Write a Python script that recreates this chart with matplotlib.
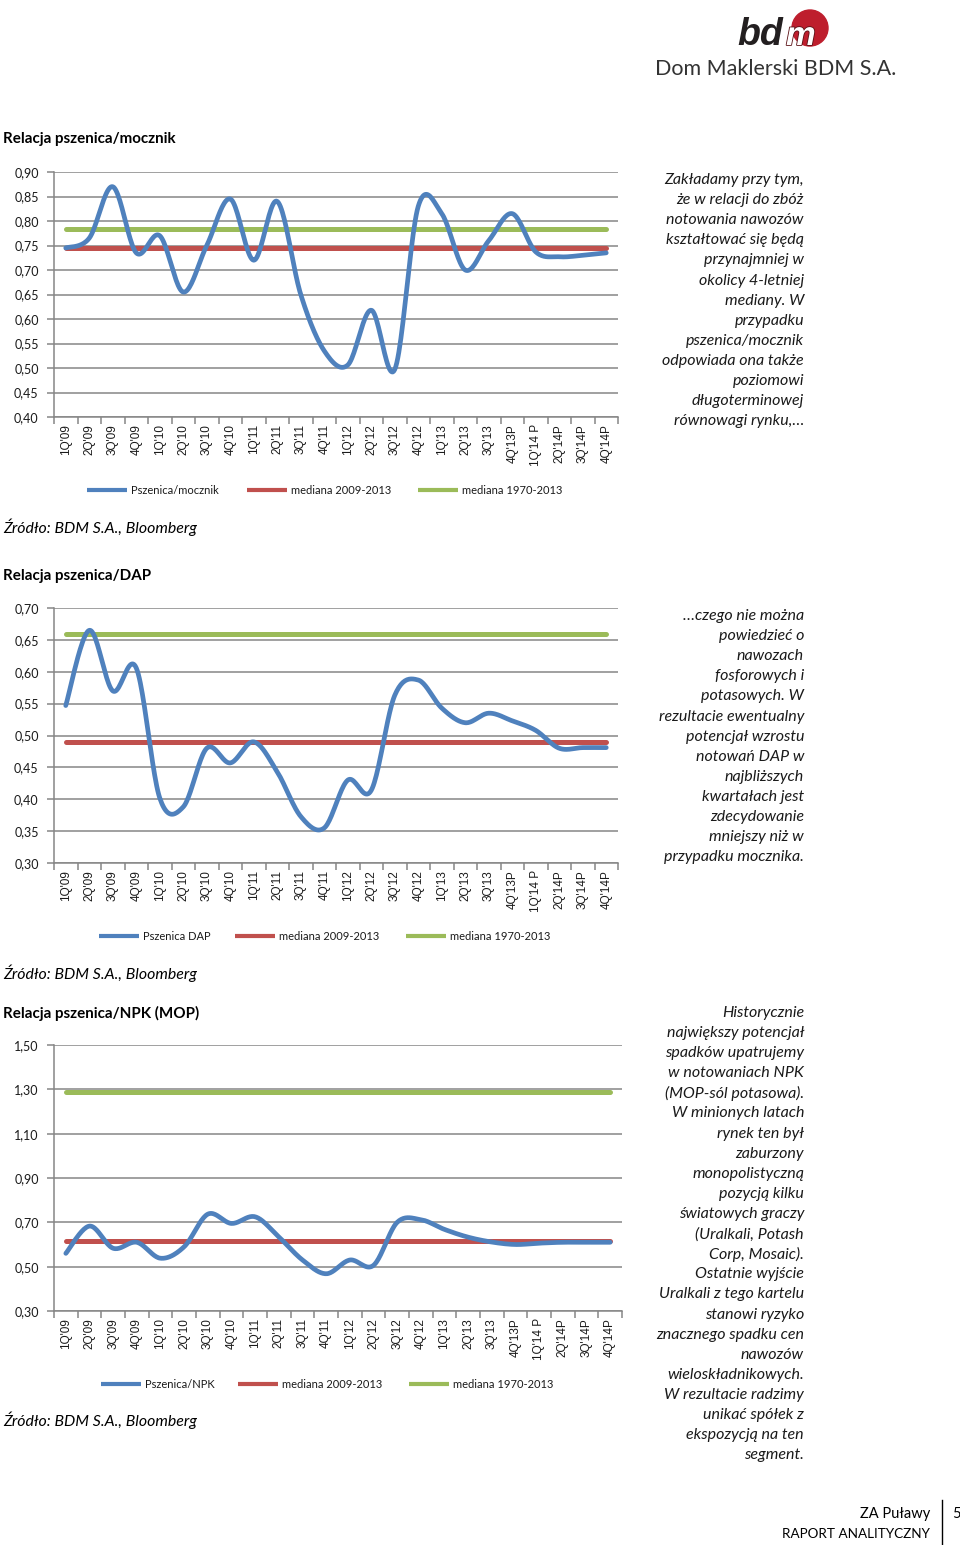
import numpy as np
import matplotlib
matplotlib.use('Agg')
import matplotlib.pyplot as plt
from matplotlib.ticker import FuncFormatter, FixedLocator
from matplotlib.patches import Circle
import matplotlib.patheffects as pe

plt.rcParams['font.family'] = ['Lato', 'DejaVu Sans']

# Category labels (quarters)
quarters = ["1Q'09", "2Q'09", "3Q'09", "4Q'09", "1Q'10", "2Q'10", "3Q'10", "4Q'10",
            "1Q'11", "2Q'11", "3Q'11", "4Q'11", "1Q'12", "2Q'12", "3Q'12", "4Q'12",
            "1Q'13", "2Q'13", "3Q'13", "4Q'13P", "1Q'14 P", "2Q'14P", "3Q'14P", "4Q'14P"]

# Wheat / urea ratio
urea = [0.745, 0.765, 0.87, 0.735, 0.77, 0.655, 0.75, 0.845, 0.72, 0.84, 0.65, 0.535,
        0.506, 0.618, 0.497, 0.83, 0.815, 0.70, 0.76, 0.815, 0.737, 0.727, 0.73, 0.735]
urea_med_0913 = 0.745
urea_med_7013 = 0.783

# Wheat / DAP ratio
dap = [0.547, 0.665, 0.57, 0.606, 0.402, 0.388, 0.48, 0.457, 0.49, 0.443, 0.373, 0.355,
       0.43, 0.414, 0.563, 0.587, 0.543, 0.52, 0.535, 0.523, 0.508, 0.48, 0.481, 0.481]
dap_med_0913 = 0.49
dap_med_7013 = 0.66

# Wheat / NPK (MOP) ratio
npk = [0.56, 0.683, 0.583, 0.61, 0.538, 0.59, 0.737, 0.695, 0.725, 0.634, 0.53, 0.468,
       0.53, 0.506, 0.70, 0.712, 0.668, 0.633, 0.611, 0.60, 0.606, 0.61, 0.61, 0.61]
npk_med_0913 = 0.615
npk_med_7013 = 1.29

BLUE = '#4F81BD'
RED = '#C0504D'
GREEN = '#9BBB59'
GRID = '#868686'

text1 = ["Zakładamy przy tym,", "że w relacji do zbóż", "notowania nawozów",
         "kształtować się będą", "przynajmniej w", "okolicy 4-letniej",
         "mediany. W", "przypadku", "pszenica/mocznik", "odpowiada ona także",
         "poziomowi", "długoterminowej", "równowagi rynku,…"]
text2 = ["…czego nie można", "powiedzieć o", "nawozach", "fosforowych i",
         "potasowych. W", "rezultacie ewentualny", "potencjał wzrostu",
         "notowań DAP w", "najbliższych", "kwartałach jest", "zdecydowanie",
         "mniejszy niż w", "przypadku mocznika."]
text3 = ["Historycznie", "największy potencjał", "spadków upatrujemy",
         "w notowaniach NPK", "(MOP-sól potasowa).", "W minionych latach",
         "rynek ten był", "zaburzony", "monopolistyczną", "pozycją kilku",
         "światowych graczy", "(Uralkali, Potash", "Corp, Mosaic).",
         "Ostatnie wyjście", "Uralkali z tego kartelu", "stanowi ryzyko",
         "znacznego spadku cen", "nawozów", "wieloskładnikowych.",
         "W rezultacie radzimy", "unikać spółek z", "ekspozycją na ten", "segment."]


def smooth(y, n=24):
    # Excel-like smoothed line (Catmull-Rom bezier through the points)
    y = np.asarray(y, float)
    x = np.arange(len(y), dtype=float)
    px = np.concatenate([[x[0]], x, [x[-1]]])
    py = np.concatenate([[y[0]], y, [y[-1]]])
    xs, ys = [], []
    t = np.linspace(0, 1, n)
    for i in range(1, len(px) - 2):
        p0 = np.array([px[i], py[i]])
        p3 = np.array([px[i + 1], py[i + 1]])
        c1 = p0 + (np.array([px[i + 1], py[i + 1]]) - np.array([px[i - 1], py[i - 1]])) / 6
        c2 = p3 - (np.array([px[i + 2], py[i + 2]]) - np.array([px[i], py[i]])) / 6
        b = ((1 - t) ** 3)[:, None] * p0 + (3 * (1 - t) ** 2 * t)[:, None] * c1 \
            + (3 * (1 - t) * t ** 2)[:, None] * c2 + (t ** 3)[:, None] * p3
        xs.extend(b[:, 0])
        ys.extend(b[:, 1])
    return np.array(xs), np.array(ys)


W, H = 960, 1545
fig = plt.figure(figsize=(W / 100, H / 100), dpi=100)

page = fig.add_axes([0, 0, 1, 1], zorder=0)
page.set_xlim(0, W)
page.set_ylim(H, 0)
page.axis('off')


def make_chart(rect_px, values, med1, med2, ylim, ystep, decimals):
    l, t, r, b = rect_px
    ax = fig.add_axes([l / W, 1 - b / H, (r - l) / W, (b - t) / H], zorder=2)
    ax.set_facecolor('none')
    n = len(values)
    ax.set_xlim(-0.5, n - 0.5)
    ax.set_ylim(*ylim)
    yt = np.arange(ylim[0], ylim[1] + ystep / 2, ystep)
    ax.set_yticks(yt)
    ax.yaxis.set_major_formatter(FuncFormatter(
        lambda v, p: ('{:.%df}' % decimals).format(v).replace('.', ',')))
    ax.grid(axis='y', color=GRID, linewidth=1.1)
    ax.set_axisbelow(True)
    ax.set_xticks(range(n))
    ax.set_xticklabels(quarters, rotation=90, fontsize=8.5, family='Liberation Sans',
                       color='#1a1a1a')
    ax.xaxis.set_minor_locator(FixedLocator(np.arange(-0.5, n, 1.0)))
    ax.tick_params(axis='x', which='major', length=0, pad=5)
    ax.tick_params(axis='x', which='minor', length=5, color=GRID, width=1.1)
    ax.tick_params(axis='y', length=5, color=GRID, width=1.1, labelsize=9, pad=6,
                   labelcolor='#1a1a1a')
    for s in ['top', 'right']:
        ax.spines[s].set_visible(False)
    for s in ['left', 'bottom']:
        ax.spines[s].set_color(GRID)
        ax.spines[s].set_linewidth(1.1)
    ax.plot([0, n - 1], [med2, med2], color=GREEN, lw=3.6, solid_capstyle='round', zorder=3)
    ax.plot([0, n - 1], [med1, med1], color=RED, lw=3.6, solid_capstyle='round', zorder=4)
    sx, sy = smooth(values)
    ax.plot(sx, sy, color=BLUE, lw=3.4, solid_capstyle='round', zorder=5, clip_on=False)
    return ax


def legend(y, x0, labels):
    cols = [BLUE, RED, GREEN]
    for (xs, lab), c in zip(zip(x0, labels), cols):
        page.plot([xs, xs + 40], [y, y], color=c, lw=3, solid_capstyle='butt')
        page.text(xs + 44, y, lab, fontsize=8, va='center', ha='left', color='#1a1a1a')


def side_text(lines, x, y0, step=20.1):
    for i, s in enumerate(lines):
        page.text(x, y0 + i * step, s, fontsize=11.5, style='italic', ha='right',
                  va='center', color='#1a1a1a')


def source(y):
    page.text(3, y, 'Źródło: BDM S.A., Bloomberg', fontsize=11.4, style='italic',
              ha='left', va='center')


def title(y, s):
    page.text(3, y, s, fontsize=10.9, fontweight='bold', ha='left', va='center')


# logo
page.add_patch(Circle((810, 28), 18, color='#BE1E2D', zorder=1))
page.text(737, 45, 'bd', fontsize=27, fontweight='bold', style='italic',
          family='Liberation Sans', color='#231F20', ha='left', va='baseline')
page.text(786, 45, 'm', fontsize=24, fontweight='bold', style='italic',
          family='Liberation Sans', color='white', ha='left', va='baseline', zorder=3,
          path_effects=[pe.withStroke(linewidth=1.2, foreground='#5a1015')])
page.text(655, 69, 'Dom Maklerski BDM S.A.', fontsize=15.5, color='#333333',
          ha='left', va='center')

# chart 1
title(139, 'Relacja pszenica/mocznik')
make_chart((54, 172, 618, 417), urea, urea_med_0913, urea_med_7013, (0.40, 0.90), 0.05, 2)
legend(490, [87, 247, 418], ['Pszenica/mocznik', 'mediana 2009-2013', 'mediana 1970-2013'])
source(527)
side_text(text1, 804, 180)

# chart 2
title(576, 'Relacja pszenica/DAP')
make_chart((54, 608, 618, 863), dap, dap_med_0913, dap_med_7013, (0.30, 0.70), 0.05, 2)
legend(936, [99, 235, 406], ['Pszenica DAP', 'mediana 2009-2013', 'mediana 1970-2013'])
source(973)
side_text(text2, 804, 616)

# chart 3
title(1013, 'Relacja pszenica/NPK (MOP)')
make_chart((54, 1045, 622, 1311), npk, npk_med_0913, npk_med_7013, (0.30, 1.50), 0.20, 2)
legend(1384, [101, 238, 409], ['Pszenica/NPK', 'mediana 2009-2013', 'mediana 1970-2013'])
source(1420)
side_text(text3, 804, 1013)

# footer
page.text(930, 1514, 'ZA Puławy', fontsize=10.5, ha='right', va='center')
page.text(930, 1534, 'RAPORT ANALITYCZNY', fontsize=9.7, ha='right', va='center')
page.plot([942, 942], [1500, 1545], color='black', lw=1)
page.text(956, 1514, '5', fontsize=10.5, ha='center', va='center')

fig.savefig('out.png', dpi=100)
